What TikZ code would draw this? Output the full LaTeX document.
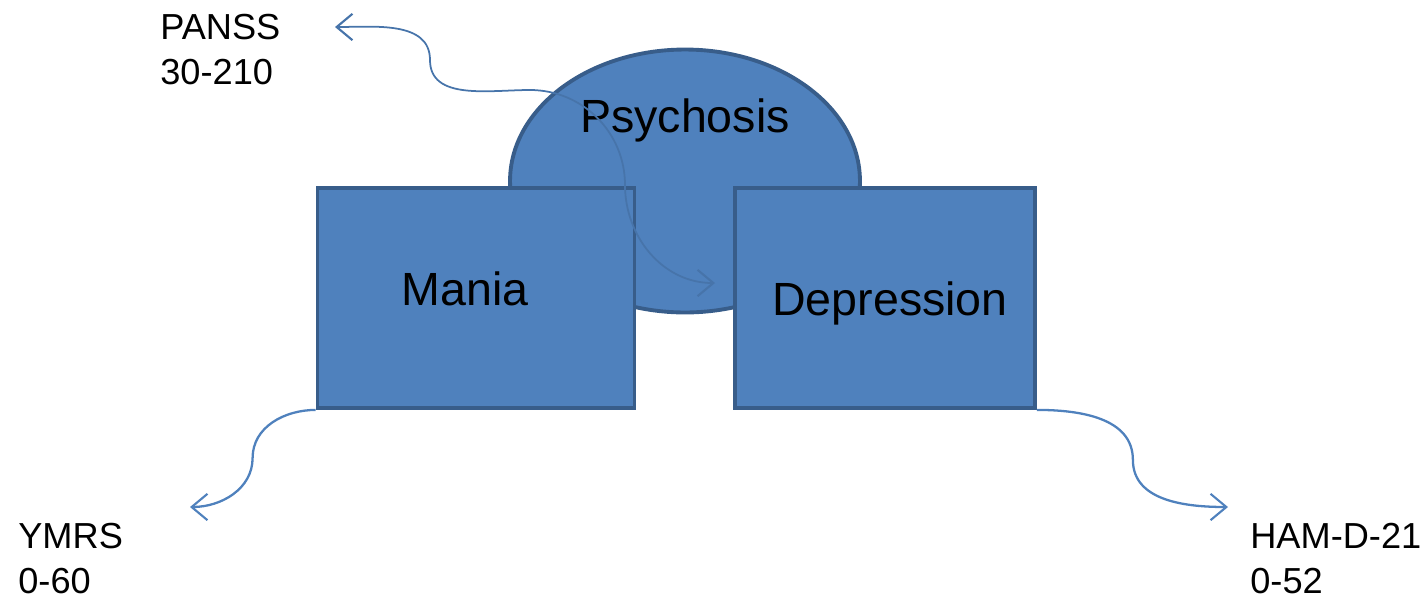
\documentclass[tikz,border=0pt]{standalone}
\usepackage{fontspec}
\setmainfont{Liberation Sans}
\usepackage{tikz}
\usetikzlibrary{shapes.geometric,arrows.meta}
\definecolor{boxfill}{HTML}{4F81BD}
\definecolor{boxline}{HTML}{385D8A}

\begin{document}
\begin{tikzpicture}[x=0.02cm, y=-0.02cm,
    scalebox/.style={draw=boxline, fill=boxfill, line width=2.2pt},
    boxtext/.style={font=\fontsize{26.5}{32}\selectfont, inner sep=0pt},
    scalelink/.style={draw=boxfill, line width=1.3pt},
    barb/.tip={Straight Barb[length=9pt, width=15pt, line width=1.2pt]},
    score/.style={align=left, inner sep=0pt, anchor=north west, font=\fontsize{20.6}{25.8}\selectfont}]
                \useasboundingbox (0,0) rectangle (1428,603);
                \node[scalebox, ellipse, minimum width=7.0cm, minimum height=5.26cm,
                      label={[boxtext, shift={(0,-60.6)}]center:Psychosis}] (psychosis) at (685,181) {};
                \node[scalebox, minimum width=6.34cm, minimum height=4.4cm,
                      label={[boxtext, shift={(-11,-9)}]center:Mania}] (mania) at (476,298) {};
                \node[scalebox, minimum width=6.0cm, minimum height=4.4cm,
                      label={[boxtext, shift={(5,5.4)}]center:Depression}] (depression) at (885,298) {};
                \node[score] (panss) at (160,14) {PANSS\\30-210};
                \node[score] (ymrs) at (18,523) {YMRS\\0-60};
                \node[score] (hamd) at (1250,523) {HAM-D-21\\0-52};
                \coordinate (pansstip) at (335,27);
                \coordinate (panssmid) at (530,90);
                \coordinate (depressiontip) at (715,283);
                \coordinate (ymrstip) at (190,507);
                \coordinate (hamdtip) at (1228,507);
                % PANSS link runs over the shapes
                \draw[scalelink, draw=boxfill!90!black, line width=1pt, barb-barb] (pansstip)
                    to[out=0, in=90] ++(95,33) to[out=-90, in=180] (panssmid)
                    to[out=0, in=90] ++(95,95) to[out=-90, in=180] (depressiontip);
                \draw[scalelink, -barb] (mania.south west) to[out=180, in=90] ++(-63,48)
                    to[out=-90, in=0] (ymrstip);
                \draw[scalelink, -barb] (depression.south east) to[out=0, in=90] ++(96,50)
                    to[out=-90, in=180] (hamdtip);
            \end{tikzpicture}
\end{document}
